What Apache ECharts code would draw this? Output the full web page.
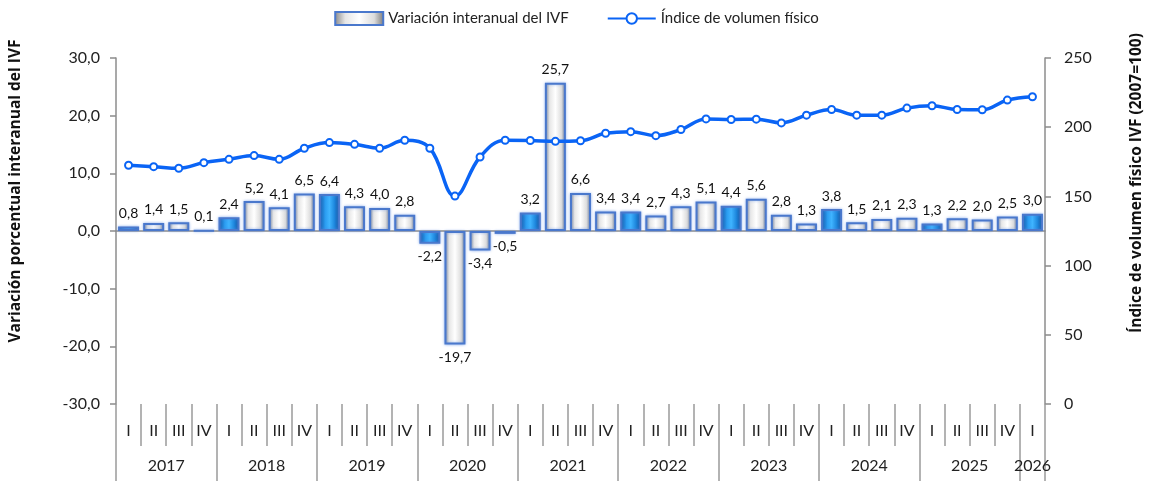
<!DOCTYPE html>
<html lang="es">
<head>
    <meta charset="UTF-8">
    <title>IVF</title>
    <script src="https://cdn.jsdelivr.net/npm/echarts@6/dist/echarts.min.js"></script>
    <style>
        html, body { margin: 0; padding: 0; background: #fff; }
        #chart { width: 1153px; height: 481px; }
    </style>
</head>
<body>
<div id="chart"></div>
<script>
    // datos
    var quarters = ['I', 'II', 'III', 'IV', 'I', 'II', 'III', 'IV', 'I', 'II', 'III', 'IV',
        'I', 'II', 'III', 'IV', 'I', 'II', 'III', 'IV', 'I', 'II', 'III', 'IV',
        'I', 'II', 'III', 'IV', 'I', 'II', 'III', 'IV', 'I', 'II', 'III', 'IV', 'I'];
    var years = ['2017', '2018', '2019', '2020', '2021', '2022', '2023', '2024', '2025', '2026'];
    var variacion = [0.8, 1.4, 1.5, 0.1, 2.4, 5.2, 4.1, 6.5, 6.4, 4.3, 4.0, 2.8,
        -2.2, -19.7, -3.4, -0.5, 3.2, 25.7, 6.6, 3.4, 3.4, 2.7, 4.3, 5.1,
        4.4, 5.6, 2.8, 1.3, 3.8, 1.5, 2.1, 2.3, 1.3, 2.2, 2.0, 2.5, 3.0];
    var indice = [172.5, 171.5, 170.3, 174.4, 176.8, 179.5, 176.8, 184.8, 188.9, 187.6, 184.8, 190.6,
        184.8, 150.2, 178.5, 190.6, 190.4, 189.8, 190.2, 195.6, 196.8, 193.9, 198.3, 206.0,
        205.6, 205.8, 203.1, 208.7, 212.8, 208.7, 208.7, 213.8, 215.5, 212.8, 212.6, 219.6, 222.0];

    var fmt = function (v) { return v.toFixed(1).replace('.', ','); };
    var font = 'Lato, "Open Sans", sans-serif';
    var titleFont = '"Open Sans", Lato, sans-serif';

    // eje de años: posiciones a medio trimestre
    var yearSlots = [];
    for (var i = 0; i <= quarters.length * 2; i++) yearSlots.push('');
    years.forEach(function (y, k) {
        var q0 = k * 4;
        var n = Math.min(4, quarters.length - q0);
        yearSlots[q0 * 2 + n] = y;
    });

    var whiteFill = {
        type: 'linear', x: 0, y: 0, x2: 1, y2: 0,
        colorStops: [
            {offset: 0, color: '#858585'}, {offset: 0.22, color: '#e6e6e6'},
            {offset: 0.5, color: '#ffffff'}, {offset: 0.8, color: '#dcdcdc'}, {offset: 1, color: '#767676'}
        ]
    };
    var blueFill = {
        type: 'linear', x: 0, y: 0, x2: 1, y2: 0,
        colorStops: [
            {offset: 0, color: '#0b4f9e'}, {offset: 0.3, color: '#2b9cf0'},
            {offset: 0.5, color: '#3fb4ff'}, {offset: 0.75, color: '#1d86dc'}, {offset: 1, color: '#0a4790'}
        ]
    };

    var barData = variacion.map(function (v, i) {
        return {
            value: v,
            itemStyle: {color: quarters[i] === 'I' ? blueFill : whiteFill},
            label: {position: v < 0 ? 'bottom' : 'top'}
        };
    });

    var chart = echarts.init(document.getElementById('chart'));
    chart.setOption({
        animation: false,
        backgroundColor: '#ffffff',
        textStyle: {fontFamily: font},
        legend: {
            top: 6,
            left: 'center',
            itemGap: 38,
            itemWidth: 48,
            itemHeight: 13,
            textStyle: {fontSize: 15, color: '#222', fontFamily: font},
            data: [
                {name: 'Variación interanual del IVF', icon: 'rect'},
                {name: 'Índice de volumen físico'}
            ]
        },
        grid: {left: 112, right: 99, top: 58, bottom: 77},
        xAxis: [{
            type: 'category',
            data: quarters,
            axisLine: {onZero: true, onZeroAxisIndex: 0, lineStyle: {color: '#8c8c8c', width: 1.5}},
            axisTick: {length: 6, lineStyle: {color: '#8c8c8c', width: 1.5}},
            axisLabel: {show: false}
        }, {
            type: 'category',
            data: quarters,
            position: 'bottom',
            axisLine: {show: false, onZero: false},
            axisTick: {show: true, length: 42, lineStyle: {color: '#9a9a9a', width: 1.5}},
            axisLabel: {margin: 19, fontSize: 16, color: '#222', fontFamily: font}
        }, {
            type: 'category',
            data: yearSlots,
            boundaryGap: false,
            position: 'bottom',
            axisLine: {show: false, onZero: false},
            axisTick: {
                show: true, length: 80, lineStyle: {color: '#9a9a9a', width: 1.5},
                interval: function (idx) { return idx % 8 === 0 || idx === yearSlots.length - 1; }
            },
            axisLabel: {
                margin: 54, fontSize: 16, color: '#222', fontFamily: font,
                interval: function (idx, val) { return val !== ''; }
            }
        }],
        yAxis: [{
            type: 'value',
            min: -30, max: 30, interval: 10,
            name: 'Variación porcentual interanual del IVF',
            nameLocation: 'middle',
            nameRotate: 90,
            nameGap: 92,
            nameTextStyle: {fontSize: 15.5, fontWeight: 'bold', color: '#111', fontFamily: titleFont, padding: [0, 0, 0, 80]},
            axisLine: {show: true, lineStyle: {color: '#8c8c8c', width: 1.5}},
            axisTick: {show: true, length: 6, lineStyle: {color: '#8c8c8c', width: 1.5}},
            axisLabel: {fontSize: 16, color: '#222', margin: 16, formatter: fmt},
            splitLine: {show: false}
        }, {
            type: 'value',
            min: 0, max: 250, interval: 50,
            position: 'right',
            name: 'Índice de volumen físico IVF (2007=100)',
            nameLocation: 'middle',
            nameRotate: 90,
            nameGap: 84,
            nameTextStyle: {fontSize: 15.5, fontWeight: 'bold', color: '#111', fontFamily: titleFont, padding: [0, 0, 0, 96]},
            axisLine: {show: true, lineStyle: {color: '#8c8c8c', width: 1.5}},
            axisTick: {show: true, length: 6, lineStyle: {color: '#8c8c8c', width: 1.5}},
            axisLabel: {fontSize: 16, color: '#222', margin: 19},
            splitLine: {show: false}
        }],
        series: [{
            name: 'Variación interanual del IVF',
            type: 'bar',
            xAxisIndex: 0,
            yAxisIndex: 0,
            barWidth: 21,
            data: barData,
            itemStyle: {
                color: whiteFill,
                borderColor: '#4a78cc',
                borderWidth: 2,
                shadowColor: 'rgba(90,140,230,0.6)',
                shadowBlur: 3
            },
            label: {
                show: true,
                fontSize: 14,
                color: '#111',
                distance: 6,
                formatter: function (p) { return fmt(p.value); }
            }
        }, {
            name: 'Índice de volumen físico',
            type: 'line',
            xAxisIndex: 0,
            yAxisIndex: 1,
            smooth: 0.4,
            data: indice,
            z: 5,
            symbol: 'circle',
            symbolSize: 7,
            lineStyle: {color: '#0a64f5', width: 3.5},
            itemStyle: {color: '#ffffff', borderColor: '#0a64f5', borderWidth: 2}
        }]
    });
</script>
</body>
</html>
